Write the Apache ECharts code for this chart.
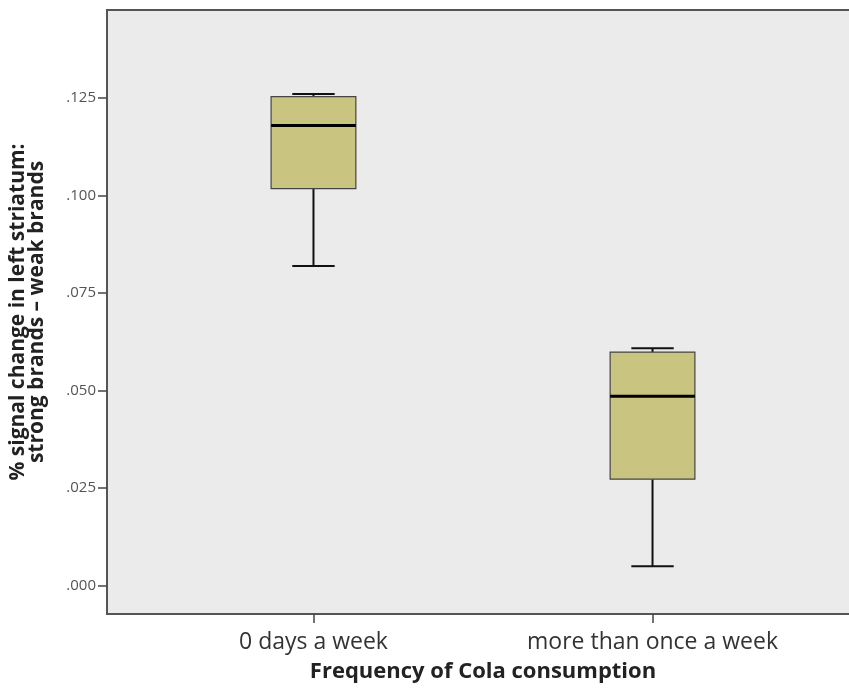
<!DOCTYPE html>
<html>
<head>
<meta charset="utf-8">
<script src="https://cdn.jsdelivr.net/npm/echarts@6/dist/echarts.min.js"></script>
<style>
  html, body { margin: 0; padding: 0; background: #fff; }
  #main { width: 849px; height: 689px; }
</style>
</head>
<body>
<div id="main"></div>
<script>
// categories and five-number summaries
var categories = ['0 days a week', 'more than once a week'];
var minVals = [0.0820, 0.0050];
var q1Vals = [0.1018, 0.0273];
var medianVals = [0.1180, 0.0486];
var q3Vals = [0.1254, 0.0599];
var maxVals = [0.1261, 0.0609];
var yTicks = [0, 0.025, 0.05, 0.075, 0.1, 0.125];

var boxData = categories.map(function (c, i) {
  return [i + 1, minVals[i], q1Vals[i], medianVals[i], q3Vals[i], maxVals[i]];
});

var myChart = echarts.init(document.getElementById('main'));

function renderBox(params, api) {
  var x = api.value(0);
  var pMin = api.coord([x, api.value(1)]);
  var pQ1 = api.coord([x, api.value(2)]);
  var pMed = api.coord([x, api.value(3)]);
  var pQ3 = api.coord([x, api.value(4)]);
  var pMax = api.coord([x, api.value(5)]);
  var half = api.size([0.25, 0])[0] / 2;
  var capHalf = half / 2;
  var cx = pMed[0];
  var lineStyle = { stroke: '#111', lineWidth: 2 };
  return {
    type: 'group',
    children: [
      // whiskers
      { type: 'line', shape: { x1: cx, y1: pMax[1], x2: cx, y2: pQ3[1] }, style: lineStyle },
      { type: 'line', shape: { x1: cx, y1: pQ1[1], x2: cx, y2: pMin[1] }, style: lineStyle },
      { type: 'line', shape: { x1: cx - capHalf, y1: pMax[1], x2: cx + capHalf, y2: pMax[1] }, style: lineStyle },
      { type: 'line', shape: { x1: cx - capHalf, y1: pMin[1], x2: cx + capHalf, y2: pMin[1] }, style: lineStyle },
      // box
      {
        type: 'rect',
        shape: { x: cx - half, y: pQ3[1], width: half * 2, height: pQ1[1] - pQ3[1] },
        style: { fill: '#c9c580', stroke: '#444', lineWidth: 1.2 }
      },
      // median
      { type: 'line', shape: { x1: cx - half, y1: pMed[1], x2: cx + half, y2: pMed[1] }, style: { stroke: '#000', lineWidth: 3 } }
    ]
  };
}

var option = {
  animation: false,
  backgroundColor: '#fff',
  grid: {
    left: 107,
    top: 10,
    right: -10,
    bottom: 75,
    outerBoundsMode: 'none',
    containLabel: false,
    show: true,
    backgroundColor: '#ebebeb',
    borderColor: '#555',
    borderWidth: 2
  },
  xAxis: {
    type: 'value',
    min: 0.391,
    max: 2.609,
    splitLine: { show: false },
    axisLine: { show: true, onZero: false, lineStyle: { color: '#555', width: 2 } },
    axisTick: { show: true, length: 9, customValues: [1, 2], lineStyle: { color: '#444', width: 1.5 } },
    axisLabel: {
      customValues: [1, 2],
      margin: 17,
      fontFamily: 'Open Sans',
      fontSize: 23,
      color: '#333',
      formatter: function (v) { return categories[Math.round(v) - 1]; }
    },
    name: 'Frequency of Cola consumption',
    nameLocation: 'middle',
    nameGap: 47,
    nameTextStyle: { fontFamily: 'Open Sans', fontWeight: 'bold', fontSize: 22, color: '#222' }
  },
  yAxis: {
    type: 'value',
    min: -0.00726,
    max: 0.14762,
    splitLine: { show: false },
    axisLine: { show: true, onZero: false, lineStyle: { color: '#555', width: 2 } },
    axisTick: { show: true, length: 9, customValues: yTicks, lineStyle: { color: '#444', width: 1.5 } },
    axisLabel: {
      customValues: yTicks,
      margin: 11,
      fontFamily: 'Open Sans',
      fontSize: 15,
      color: '#555',
      formatter: function (v) { return v.toFixed(3).replace(/^0/, ''); }
    },
    name: '% signal change in left striatum:\nstrong brands \u2013 weak brands',
    nameLocation: 'middle',
    nameRotate: 90,
    nameGap: 60,
    nameTextStyle: { fontFamily: 'Open Sans', fontWeight: 'bold', fontSize: 21, lineHeight: 19, color: '#222' }
  },
  series: [{
    type: 'custom',
    renderItem: renderBox,
    encode: { x: 0, y: [1, 2, 3, 4, 5] },
    data: boxData
  }]
};

myChart.setOption(option);
</script>
</body>
</html>
